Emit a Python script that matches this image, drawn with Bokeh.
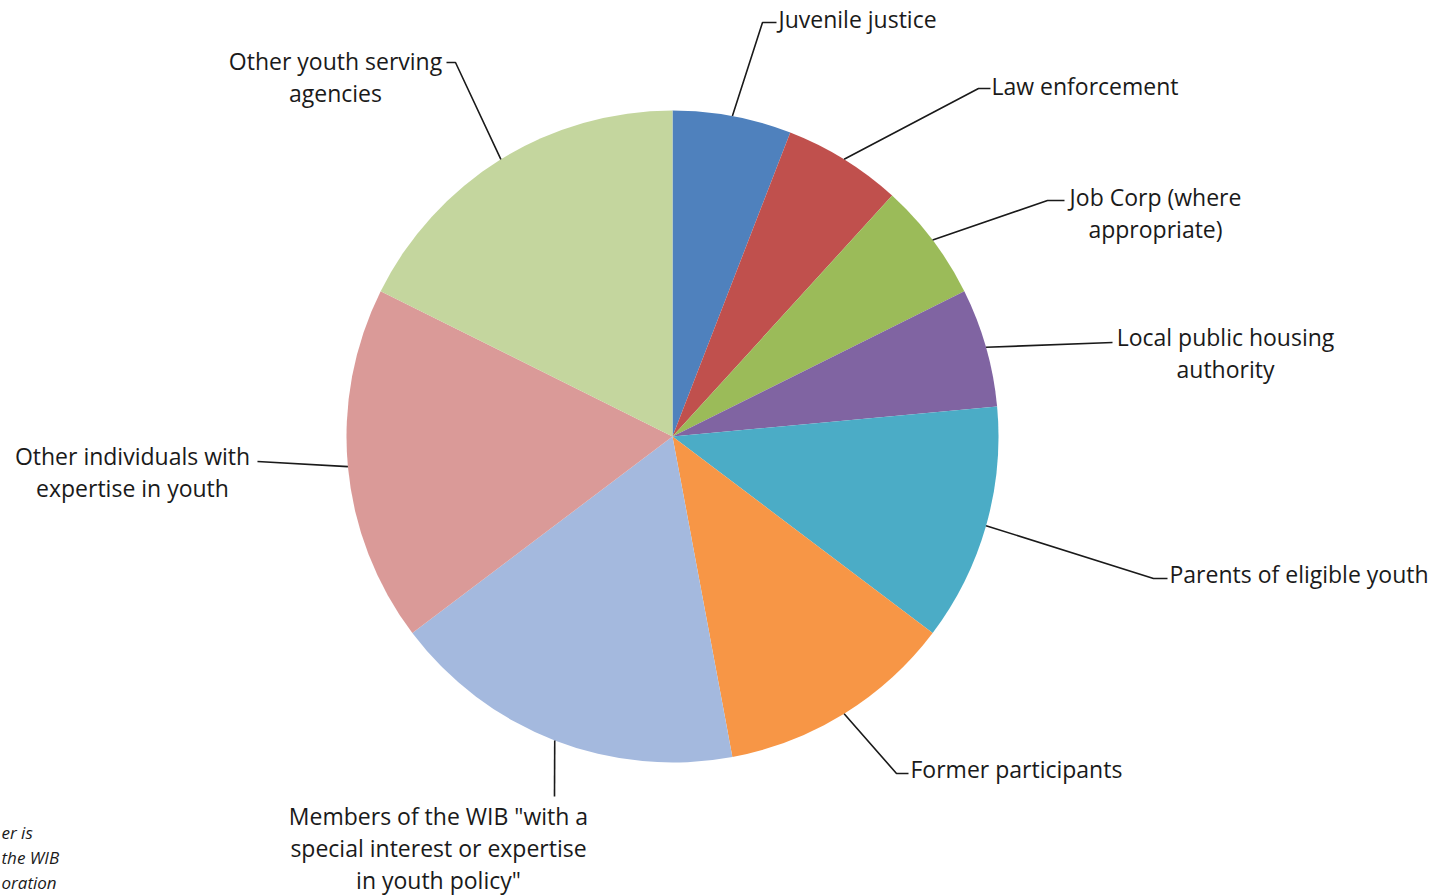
import math
from bokeh.plotting import figure
from bokeh.models import Range1d, ColumnDataSource
from bokeh.core.properties import value
from bokeh.embed import file_html
from bokeh.resources import INLINE

# ---- data ----
categories = [
    "Juvenile justice",
    "Law enforcement",
    "Job Corp (where appropriate)",
    "Local public housing authority",
    "Parents of eligible youth",
    "Former participants",
    "Members of the WIB \"with a special interest or expertise in youth policy\"",
    "Other individuals with expertise in youth",
    "Other youth serving agencies",
]
values = [1, 1, 1, 1, 2, 2, 3, 3, 3]
colors = ["#4F81BD", "#C0504D", "#9BBB59", "#8064A2", "#4BACC6",
          "#F79646", "#A4B9DE", "#DA9A98", "#C4D69E"]
label_lines = [
    ["Juvenile justice"],
    ["Law enforcement"],
    ["Job Corp (where", "appropriate)"],
    ["Local public housing", "authority"],
    ["Parents of eligible youth"],
    ["Former participants"],
    ["Members of the WIB \"with a", "special interest or expertise", "in youth policy\""],
    ["Other individuals with", "expertise in youth"],
    ["Other youth serving", "agencies"],
]
side_note = ["er is", "the WIB", "oration"]

# ---- layout (pixel space, y measured from top) ----
W, H = 1440, 895
CX, CY, R = 672, 436, 326
label_layout = [
    dict(x=778, y=18, align="left", path=[(762, 22), (776, 22)]),
    dict(x=991, y=85, align="left", path=[(978, 88), (990, 88)]),
    dict(x=1155, y=196, align="center", path=[(1047, 200), (1064, 200)]),
    dict(x=1225, y=336, align="center", path=[(1112, 342)]),
    dict(x=1169, y=573, align="left", path=[(1153, 578), (1167, 578)]),
    dict(x=910, y=768, align="left", path=[(896, 773), (908, 773)]),
    dict(x=438, y=815, align="center", path=[(554, 796)]),
    dict(x=132, y=455, align="center", path=[(257, 461)]),
    dict(x=335, y=60, align="center", path=[(455, 62), (446, 62)]),
]
LINE_H = 32

def fy(py):
    return H - py

p = figure(width=W, height=H, x_range=Range1d(0, W), y_range=Range1d(0, H),
           output_backend="svg", toolbar_location=None, min_border=0,
           background_fill_color="white", border_fill_color="white")
p.axis.visible = False
p.grid.visible = False
p.outline_line_color = None

total = float(sum(values))
starts, ends, mids = [], [], []
cum = 0.0
for v in values:
    a0 = math.pi / 2 - 2 * math.pi * cum / total
    cum += v
    a1 = math.pi / 2 - 2 * math.pi * cum / total
    starts.append(a0)
    ends.append(a1)
    mids.append((a0 + a1) / 2)

src = ColumnDataSource(dict(start=starts, end=ends, color=colors, cat=categories))
p.wedge(x=CX, y=fy(CY), radius=R, start_angle="start", end_angle="end",
        direction="clock", fill_color="color", line_color=None, source=src)

FONT = "Open Sans"
for i, lines in enumerate(label_lines):
    lay = label_layout[i]
    sx = CX + R * math.cos(mids[i])
    sy = fy(CY) + R * math.sin(mids[i])
    xs = [sx] + [pt[0] for pt in lay["path"]]
    ys = [sy] + [fy(pt[1]) for pt in lay["path"]]
    p.line(xs, ys, line_color="#1a1a1a", line_width=1.6)
    tys = [fy(lay["y"] + k * LINE_H) for k in range(len(lines))]
    p.text(x=[lay["x"]] * len(lines), y=tys, text=lines,
           text_align=lay["align"], text_baseline="middle",
           text_font=value(FONT), text_font_size="23px", text_color="#1a1a1a")

# small note at the left edge
p.text(x=[1, 1, 1], y=[fy(832), fy(857), fy(882)], text=side_note,
       text_align="left", text_baseline="middle", text_font=value(FONT),
       text_font_style="italic", text_font_size="17px", text_color="#1a1a1a")

open("out.html", "w").write(file_html(p, INLINE))
